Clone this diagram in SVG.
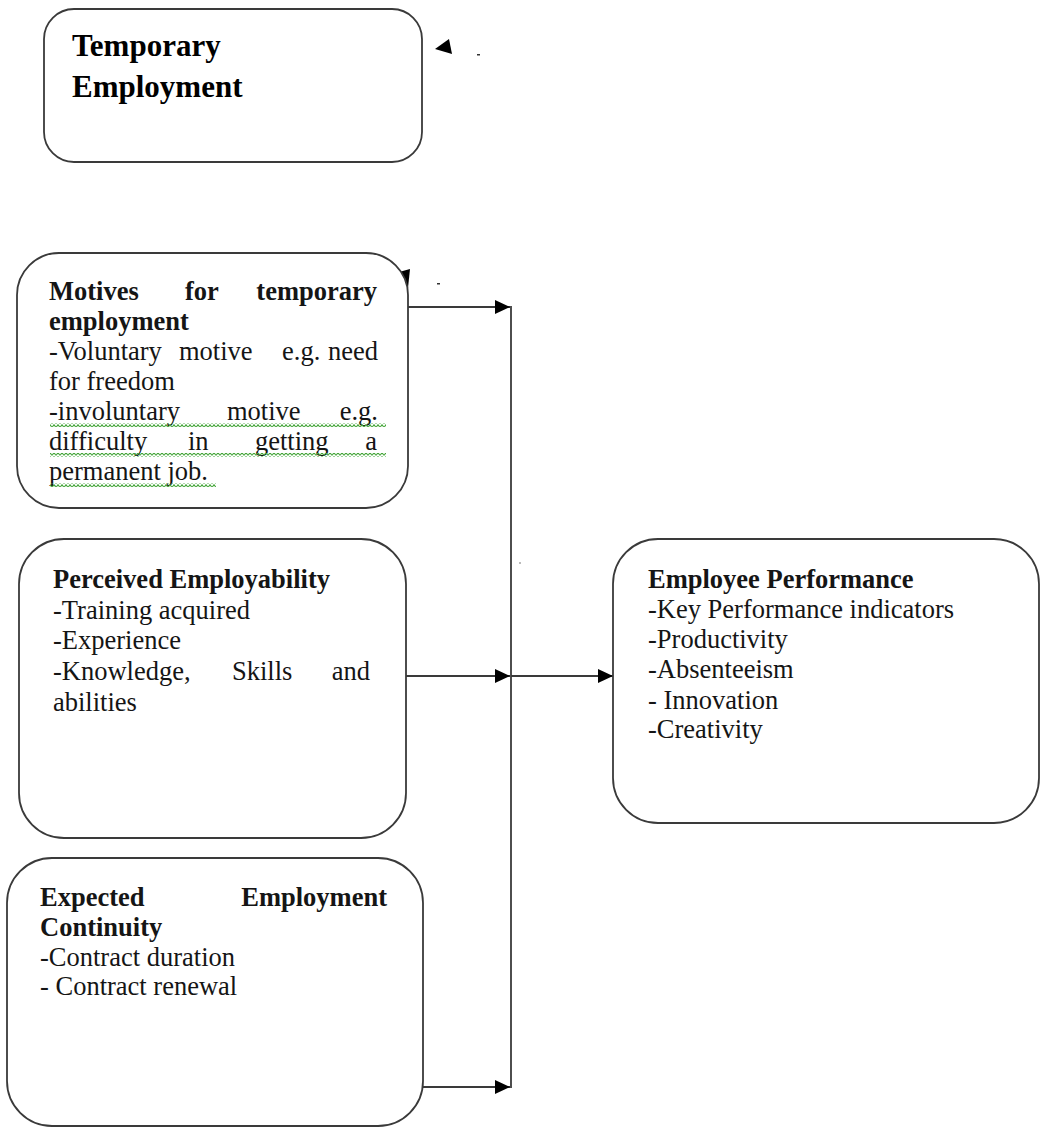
<svg xmlns="http://www.w3.org/2000/svg" width="1040" height="1127" viewBox="0 0 1040 1127">
<style>
.box{fill:#fff;stroke:#3a3a3a;stroke-width:1.8}
.t{font-family:"Liberation Serif","Times New Roman",serif;font-size:26.5px;fill:#151515}
.b{font-weight:bold}
.title{font-family:"Liberation Serif","Times New Roman",serif;font-size:31px;font-weight:bold;fill:#000}
.con{fill:none;stroke:#3a3a3a;stroke-width:1.8}
.e{text-anchor:end}
</style>
<defs>
<marker id="arr" markerWidth="15" markerHeight="14" refX="15" refY="7" orient="auto" markerUnits="userSpaceOnUse">
<path d="M0,0 L15,7 L0,14 Z" fill="#000"/>
</marker>
<pattern id="wave" patternUnits="userSpaceOnUse" width="4" height="4">
<path d="M0,3.3 L2,0.7 L4,3.3" fill="none" stroke="#45a63a" stroke-width="1.1"/>
</pattern>
</defs>
<rect width="1040" height="1127" fill="#fff"/>

<g id="connectors">
<line class="con" x1="408" y1="307" x2="510" y2="307" marker-end="url(#arr)"/>
<line class="con" x1="406" y1="676" x2="510" y2="676" marker-end="url(#arr)"/>
<line class="con" x1="423" y1="1087" x2="510" y2="1087" marker-end="url(#arr)"/>
<line class="con" x1="511" y1="306" x2="511" y2="1088"/>
<line class="con" x1="511" y1="676" x2="613" y2="676" marker-end="url(#arr)"/>
<path d="M435,49 L449,39 L452,54 Z" fill="#000"/>
<path d="M392,274 L410,269 L408,288 Z" fill="#000"/>
<rect x="477" y="54" width="3" height="1.5" fill="#333"/>
<rect x="437" y="283" width="3" height="1.5" fill="#333"/>
<rect x="519" y="562" width="2" height="2" fill="#bbb"/>
</g>

<g id="temporary-employment">
<rect class="box" x="44" y="9" width="378" height="153" rx="30" ry="30"/>
<text class="title" x="72" y="56">Temporary</text>
<text class="title" x="72" y="97">Employment</text>
</g>

<g id="motives">
<rect class="box" x="17" y="253" width="391" height="255" rx="42" ry="42"/>
<text class="t b" x="49" y="300">Motives</text>
<text class="t b" x="185" y="300">for</text>
<text class="t b e" x="377" y="300">temporary</text>
<text class="t b" x="49" y="330">employment</text>
<text class="t" x="49" y="360">-Voluntary</text>
<text class="t" x="179" y="360">motive</text>
<text class="t" x="282" y="360">e.g.</text>
<text class="t e" x="378" y="360">need</text>
<text class="t" x="49" y="390">for freedom</text>
<text class="t" x="49" y="420">-involuntary</text>
<text class="t" x="227" y="420">motive</text>
<text class="t e" x="378" y="420">e.g.</text>
<text class="t" x="49" y="450">difficulty</text>
<text class="t" x="188" y="450">in</text>
<text class="t" x="255" y="450">getting</text>
<text class="t e" x="377" y="450">a</text>
<text class="t" x="49" y="480">permanent job.</text>
<rect x="50" y="423" width="336" height="4" fill="url(#wave)"/>
<rect x="50" y="453" width="336" height="4" fill="url(#wave)"/>
<rect x="50" y="483" width="166" height="4" fill="url(#wave)"/>
</g>

<g id="perceived-employability">
<rect class="box" x="19" y="539" width="387" height="299" rx="45" ry="45"/>
<text class="t b" x="53" y="588">Perceived Employability</text>
<text class="t" x="53" y="619">-Training acquired</text>
<text class="t" x="53" y="649">-Experience</text>
<text class="t" x="53" y="680">-Knowledge,</text>
<text class="t" x="232" y="680">Skills</text>
<text class="t e" x="370" y="680">and</text>
<text class="t" x="53" y="711">abilities</text>
</g>

<g id="expected-employment-continuity">
<rect class="box" x="7" y="858" width="416" height="268" rx="45" ry="45"/>
<text class="t b" x="40" y="906">Expected</text>
<text class="t b e" x="387" y="906">Employment</text>
<text class="t b" x="40" y="936">Continuity</text>
<text class="t" x="40" y="966">-Contract duration</text>
<text class="t" x="40" y="995">- Contract renewal</text>
</g>

<g id="employee-performance">
<rect class="box" x="613" y="539" width="426" height="284" rx="45" ry="45"/>
<text class="t b" x="648" y="588">Employee Performance</text>
<text class="t" x="648" y="618">-Key Performance indicators</text>
<text class="t" x="648" y="648">-Productivity</text>
<text class="t" x="648" y="678">-Absenteeism</text>
<text class="t" x="648" y="709">- Innovation</text>
<text class="t" x="648" y="738">-Creativity</text>
</g>
</svg>
